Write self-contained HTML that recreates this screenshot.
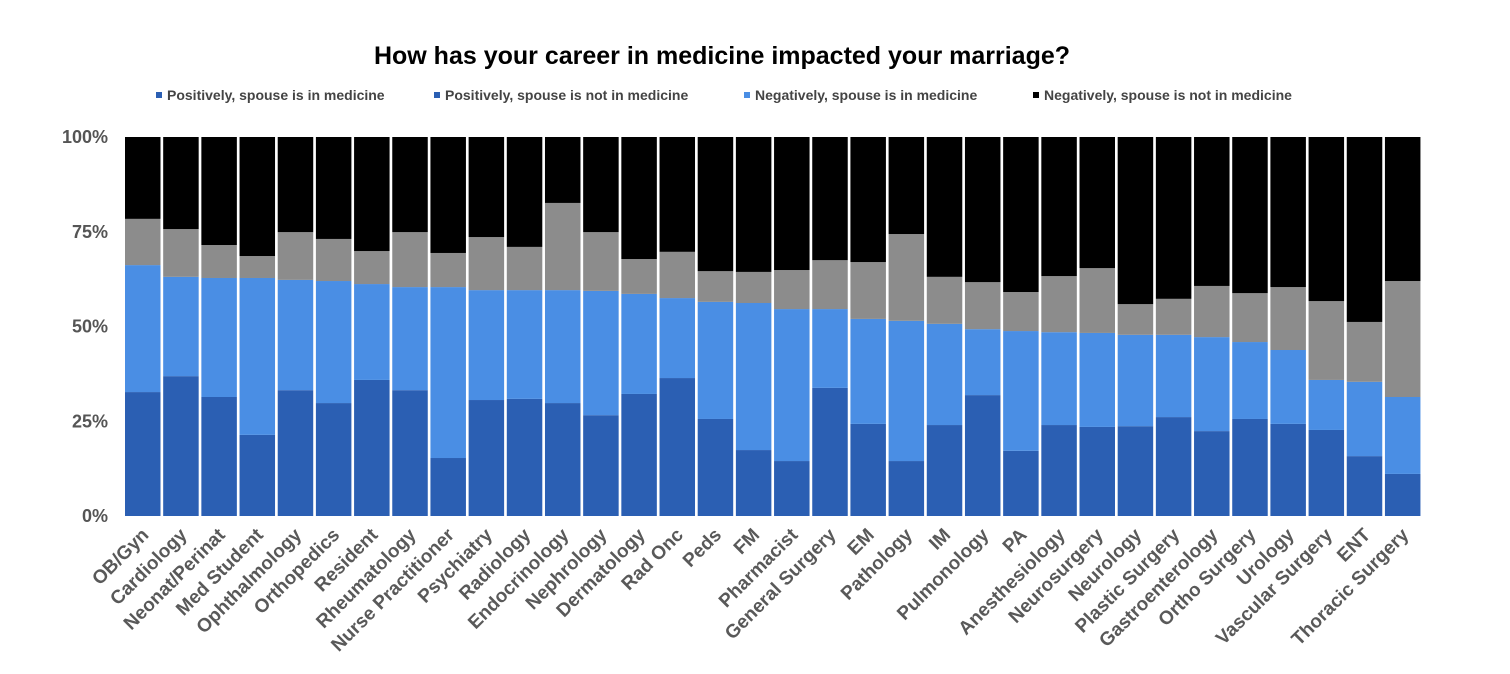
<!DOCTYPE html>
<html><head><meta charset="utf-8"><style>
body{margin:0;background:#fff;}
svg{display:block;font-family:"Liberation Sans",sans-serif;}
</style></head><body>
<svg id="chart" width="1510" height="674">
<text x="722" y="64" text-anchor="middle" font-size="25" font-weight="bold" fill="#000">How has your career in medicine impacted your marriage?</text>
<g id="legend"></g>
<g id="yaxis"></g>
<g id="bars"></g>
<g id="xaxis"></g>
</svg>
<script>
const categories=["OB/Gyn","Cardiology","Neonat/Perinat","Med Student","Ophthalmology","Orthopedics","Resident","Rheumatology","Nurse Practitioner","Psychiatry","Radiology","Endocrinology","Nephrology","Dermatology","Rad Onc","Peds","FM","Pharmacist","General Surgery","EM","Pathology","IM","Pulmonology","PA","Anesthesiology","Neurosurgery","Neurology","Plastic Surgery","Gastroenterology","Ortho Surgery","Urology","Vascular Surgery","ENT","Thoracic Surgery"];
const posInMed=[32.7,36.9,31.4,21.4,33.2,29.8,35.9,33.2,15.3,30.6,30.9,29.8,26.6,32.2,36.4,25.6,17.4,14.5,33.8,24.3,14.5,24.0,31.9,17.2,24.0,23.5,23.7,26.1,22.4,25.6,24.3,22.7,15.8,11.1];
const posNotMed=[33.5,26.2,31.4,41.4,29.1,32.2,25.3,27.2,45.1,29.0,28.7,29.8,32.8,26.4,21.1,30.9,38.8,40.1,20.8,27.7,37.0,26.7,17.4,31.6,24.5,24.8,24.1,21.7,24.8,20.3,19.5,13.2,19.6,20.3];
const negInMed=[12.2,12.6,8.7,5.8,12.6,11.1,8.7,14.5,9.0,14.0,11.4,23.0,15.5,9.2,12.2,8.1,8.2,10.3,12.9,15.0,22.9,12.4,12.4,10.3,14.8,17.1,8.1,9.5,13.5,12.9,16.6,20.8,15.8,30.6];
const legendLabels=["Positively, spouse is in medicine","Positively, spouse is not in medicine","Negatively, spouse is in medicine","Negatively, spouse is not in medicine"];
const yTicks=[0,25,50,75,100];
const colors=["#2b5fb3","#4a8ee4","#8c8c8c","#000000"];
const NS="http://www.w3.org/2000/svg";
const x0=125,step=38.18,bw=35.5,yB=516,yT=137;
const y=v=>yB-(yB-yT)*v/100;
const xc=i=>x0+i*step+bw/2;
function mk(t,a,p){const e=document.createElementNS(NS,t);for(const k in a)e.setAttribute(k,a[k]);p.appendChild(e);return e;}
const yg=document.getElementById('yaxis');
yTicks.forEach(v=>{const t=mk('text',{x:108,y:y(v)+6,'text-anchor':'end','font-size':18,'font-weight':'bold',fill:'#555'},yg);t.textContent=v+'%';

});
const bg=document.getElementById('bars'),xg=document.getElementById('xaxis');
categories.forEach((c,i)=>{
 const vals=[posInMed[i],posNotMed[i],negInMed[i]];vals.push(100-vals[0]-vals[1]-vals[2]);
 let cum=0;
 vals.forEach((v,k)=>{const r=mk('rect',{x:x0+i*step,y:y(cum+v),width:bw,height:y(cum)-y(cum+v),fill:colors[k]},bg);
 
 cum+=v;});
 const t=mk('text',{x:0,y:0,'text-anchor':'end','font-size':19,'font-weight':'bold',fill:'#595959',transform:`translate(${xc(i)+7},${yB+20}) rotate(-45)`},xg);
 t.textContent=c;
 
 
});
const lg=document.getElementById('legend');
const lx=[156,434,744,1033];
legendLabels.forEach((l,k)=>{
 const r=mk('rect',{x:lx[k],y:92,width:6,height:6,fill:k<3?colors[k==2?1:0]:'#000'},lg);
 
 
 const t=mk('text',{x:lx[k]+11,y:100,'font-size':14,'font-weight':'bold',fill:'#444'},lg);t.textContent=l;
 
 
});
</script>
</body></html>
